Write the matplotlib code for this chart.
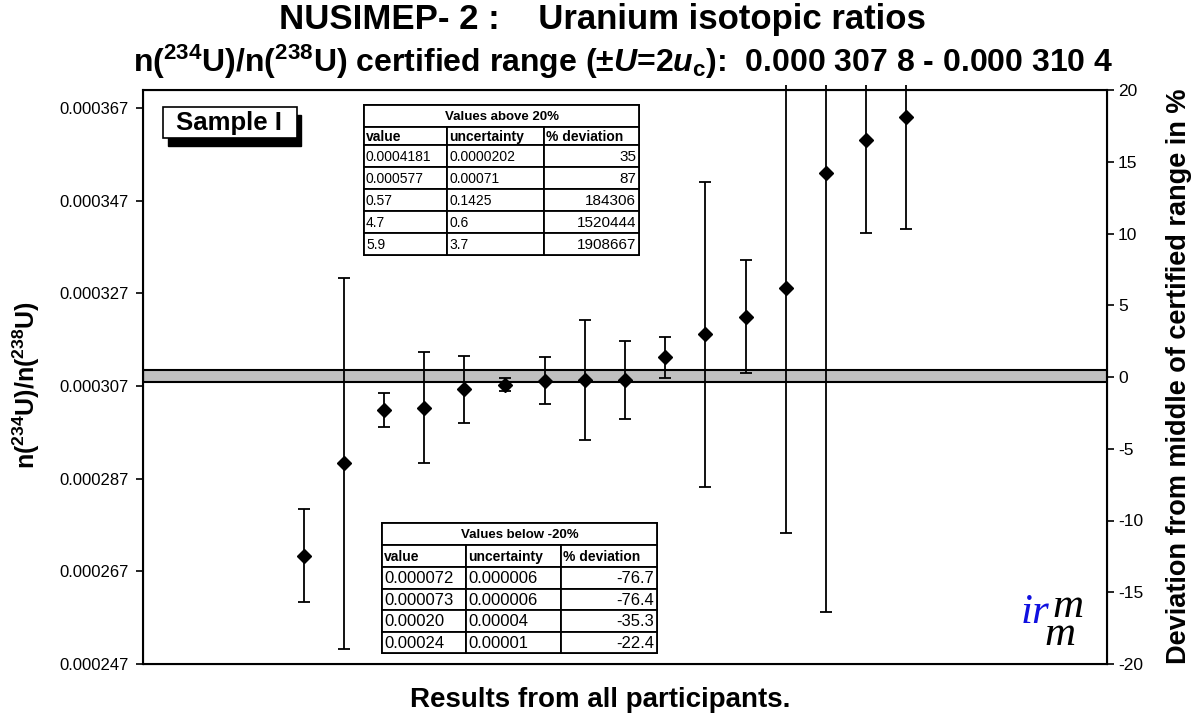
import matplotlib
matplotlib.use("Agg")
import matplotlib.pyplot as plt
from matplotlib.patches import Rectangle

plt.rcParams.update({
    "font.family": ["Liberation Sans", "DejaVu Sans"],
    "mathtext.fontset": "custom",
    "mathtext.rm": "Liberation Sans:bold",
    "mathtext.it": "Liberation Sans:italic:bold",
    "mathtext.bf": "Liberation Sans:bold",
    "axes.unicode_minus": False,
})

# ---------- DATA ----------
cert_low = 0.0003078
cert_high = 0.0003104
cert_mid = (cert_low + cert_high) / 2

participant = list(range(5, 21))
ratio = [0.0002704, 0.0002903, 0.0003018, 0.0003023, 0.0003063, 0.0003073,
         0.0003082, 0.0003083, 0.0003083, 0.0003132, 0.0003182, 0.0003220,
         0.0003281, 0.0003530, 0.0003601, 0.0003650]
uncertainty = [0.0000100, 0.0000400, 0.0000036, 0.0000120, 0.0000072,
               0.0000014, 0.0000050, 0.0000129, 0.0000085, 0.0000045,
               0.0000329, 0.0000122, 0.0000529, 0.0000948, 0.0000200,
               0.0000240]

left_ticks = [0.000247, 0.000267, 0.000287, 0.000307, 0.000327, 0.000347, 0.000367]
right_ticks = [-20, -15, -10, -5, 0, 5, 10, 15, 20]

above_title = "Values above 20%"
above_rows = [["0.0004181", "0.0000202", "35"],
              ["0.000577", "0.00071", "87"],
              ["0.57", "0.1425", "184306"],
              ["4.7", "0.6", "1520444"],
              ["5.9", "3.7", "1908667"]]
below_title = "Values below -20%"
below_rows = [["0.000072", "0.000006", "-76.7"],
              ["0.000073", "0.000006", "-76.4"],
              ["0.00020", "0.00004", "-35.3"],
              ["0.00024", "0.00001", "-22.4"]]
table_header = ["value", "uncertainty", "% deviation"]

# ---------- FIGURE ----------
W, H = 1199, 716
fig = plt.figure(figsize=(W / 100, H / 100), dpi=100)


def px(x, y):
    return x / W, 1 - y / H


ax = fig.add_axes([143 / W, 1 - 664 / H, (1107 - 143) / W, (664 - 90) / H])
ax.set_xlim(1, 25)
ax.set_ylim(cert_mid * 0.8, cert_mid * 1.2)
ax.set_xticks([])
ax.set_yticks(left_ticks)
ax.set_yticklabels([f"{v:.6f}" for v in left_ticks])
ax.tick_params(axis="y", direction="out", length=5, width=1.2, pad=5,
               labelsize=12)
for sp in ax.spines.values():
    sp.set_linewidth(1.5)

ax2 = ax.twinx()
ax2.set_ylim(-20, 20)
ax2.set_yticks(right_ticks)
ax2.tick_params(axis="y", direction="out", length=5, width=1.2, pad=3,
                labelsize=12.5)

# certified range band
ax.axhspan(cert_low, cert_high, facecolor="#c0c0c0", edgecolor="black",
           linewidth=1.5, zorder=1)

eb = ax.errorbar(participant, ratio, yerr=uncertainty, fmt="D", color="black",
                 markersize=7, ecolor="black", elinewidth=1.3, capsize=4,
                 capthick=1.3, zorder=3)
clip_rect = Rectangle((0, 0), 1, 1.009, transform=ax.transAxes)
for art in list(eb[1]) + list(eb[2]):
    art.set_clip_path(clip_rect)

# titles and axis labels
fig.text(*px(602, 19), "NUSIMEP- 2 :    Uranium isotopic ratios",
         ha="center", va="center", fontsize=25, fontweight="bold")
fig.text(*px(623, 62),
         r"n($^{234}$U)/n($^{238}$U) certified range (±$\mathit{U}$=2$\mathit{u}_{\mathrm{c}}$):  0.000 307 8 - 0.000 310 4",
         ha="center", va="center", fontsize=23, fontweight="bold")
fig.text(*px(26, 385), r"n($^{234}$U)/n($^{238}$U)", rotation=90,
         ha="center", va="center", fontsize=18, fontweight="bold")
fig.text(*px(1179, 376), "Deviation from middle of certified range in %",
         rotation=90, ha="center", va="center", fontsize=19.5, fontweight="bold")
fig.text(*px(600, 700), "Results from all participants.",
         ha="center", va="center", fontsize=20, fontweight="bold")

# sample box with drop shadow
fig.patches.append(Rectangle(px(168, 146), 133 / W, 31 / H, transform=fig.transFigure,
                             facecolor="black", edgecolor="black", zorder=5))
fig.patches.append(Rectangle(px(163, 138), 134 / W, 31 / H, transform=fig.transFigure,
                             facecolor="white", edgecolor="black", linewidth=1.2,
                             zorder=6))
fig.text(*px(229, 123), "Sample I", ha="center", va="center", fontsize=18.5,
         fontweight="bold", zorder=7)


def draw_table(xs, ys, title, rows, title_size, head_size, text_size, num_size):
    def box(x0, y0, x1, y1):
        fig.patches.append(Rectangle(px(x0, y1), (x1 - x0) / W, (y1 - y0) / H,
                                     transform=fig.transFigure, facecolor="white",
                                     edgecolor="black", linewidth=1.3, zorder=8))

    box(xs[0], ys[0], xs[-1], ys[-1])
    box(xs[0], ys[0], xs[-1], ys[1])
    fig.text(*px((xs[0] + xs[-1]) / 2, (ys[0] + ys[1]) / 2 + 1), title,
             ha="center", va="center", fontsize=title_size, fontweight="bold",
             zorder=9)
    all_rows = [table_header] + rows
    for r, row in enumerate(all_rows):
        y0, y1 = ys[r + 1], ys[r + 2]
        for c, cell in enumerate(row):
            box(xs[c], y0, xs[c + 1], y1)
            ym = (y0 + y1) / 2 + 1
            if r == 0:
                fig.text(*px(xs[c] + 2, ym), cell, ha="left", va="center",
                         fontsize=head_size, fontweight="bold", zorder=9)
            elif c < 2:
                fig.text(*px(xs[c] + 2, ym), cell, ha="left", va="center",
                         fontsize=text_size, zorder=9)
            else:
                fig.text(*px(xs[c + 1] - 3, ym), cell, ha="right", va="center",
                         fontsize=num_size, zorder=9)


draw_table([364, 447, 544, 639], [105, 127, 145, 167, 189, 211, 233, 255],
           above_title, above_rows, 9.5, 10, 10, 11)
draw_table([382, 466, 561, 657], [523, 545, 567, 588.5, 610, 631.5, 653],
           below_title, below_rows, 9.5, 10, 12, 12)

# institute logo
logo = dict(fontsize=31, style="italic", family="Liberation Serif",
            ha="left", va="baseline")
fig.text(*px(1021, 623), "ir", color="#1010e0", **logo)
fig.text(*px(1052, 617), "m", color="black", **logo)
fig.text(*px(1044, 645), "m", color="black", **logo)

fig.savefig("out.png", dpi=100)
